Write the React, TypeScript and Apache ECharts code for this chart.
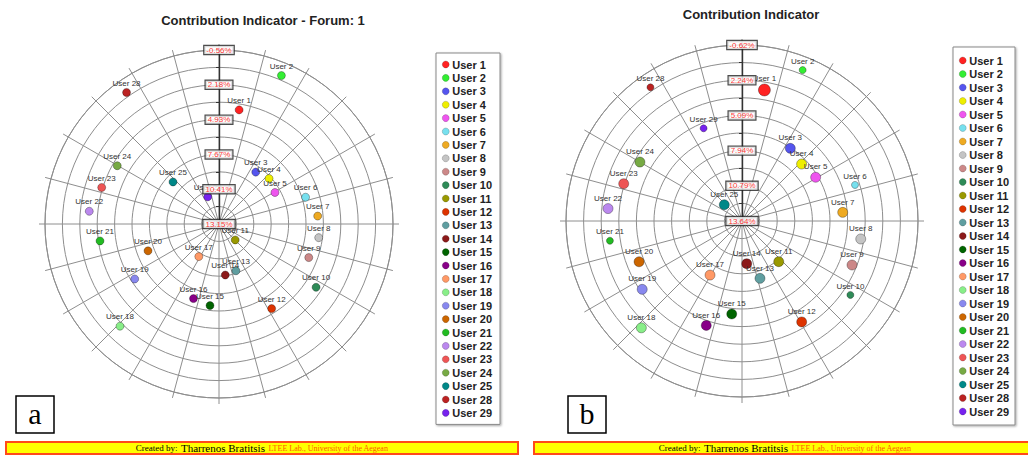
import React, { useEffect, useRef } from 'react';
import * as echarts from 'echarts';

const users = ['User 1', 'User 2', 'User 3', 'User 4', 'User 5', 'User 6', 'User 7', 'User 8', 'User 9', 'User 10', 'User 11', 'User 12', 'User 13', 'User 14', 'User 15', 'User 16', 'User 17', 'User 18', 'User 19', 'User 20', 'User 21', 'User 22', 'User 23', 'User 24', 'User 25', 'User 28', 'User 29'];
const userColors = ['#ff2222', '#33ee33', '#5555ee', '#eeee00', '#ee55ee', '#77e0ee', '#eeaa22', '#c4c4c4', '#cc8888', '#2e8b57', '#999900', '#dd3300', '#5f9ea0', '#8b1a1a', '#006400', '#880088', '#ff9966', '#88ee88', '#8888ee', '#cc6600', '#22bb22', '#bb88ee', '#ee5555', '#77aa44', '#008888', '#bb2222', '#7722ee'];

// Chart a (Forum 1): angular position (deg, clockwise from top) and contribution (%)
const anglesA = [10, 22.8, 35.3, 47.7, 60.6, 72.8, 85.4, 97.8, 110.5, 123.1, 134.5, 148.1, 160.1, 173, 186.3, 198.9, 211.8, 224.1, 236.9, 249.3, 261.9, 275.6, 287.3, 299.8, 312.4, 324.9, 337.5];
const valuesA = [4.02, 0.46, 8.14, 7.82, 8.09, 6.01, 5.35, 5.22, 5.6, 4.02, 11.36, 5.3, 9.23, 9.1, 6.69, 6.94, 10.13, 1.94, 5.22, 7.17, 3.68, 2.88, 3.47, 3.91, 8.24, 0.48, 10.83];
const ticksA = ['-0.56%', '2.18%', '4.93%', '7.67%', '10.41%', '13.15%'];
const tickValuesA = [-0.56, 2.18, 4.93, 7.67, 10.41, 13.15];

// Chart b
const anglesB = [9.7, 21.9, 33.6, 46.3, 59.3, 72.3, 85.1, 98.6, 111.8, 124.3, 137.9, 149.4, 162.6, 173.7, 186.3, 198.9, 210.6, 223.3, 235.6, 248.4, 261.5, 275.3, 287.5, 300, 312.6, 325.6, 337.5];
const valuesB = [2.87, 0.46, 6.57, 6.96, 6.7, 4.03, 5.45, 3.91, 4.04, 3.01, 9.2, 4.14, 8.77, 10.16, 6.06, 4.7, 8.55, 1.75, 3.84, 4.67, 2.82, 2.74, 3.59, 4.09, 11.69, 0.51, 5.51];
const sizesB = [12, 7, 10, 10, 10, 7, 10, 10, 10, 7, 10, 10, 10, 10, 10, 10, 10, 10, 10, 10, 7, 10, 10, 10, 10, 7, 7];
const ticksB = ['-0.62%', '2.24%', '5.09%', '7.94%', '10.79%', '13.64%'];
const tickValuesB = [-0.62, 2.24, 5.09, 7.94, 10.79, 13.64];

const SANS = '"Liberation Sans", Arial, sans-serif';
const SERIF = '"Liberation Serif", "Times New Roman", serif';
const GRID = '#8e8e8e';

function radiusAxis(idx: number, min: number, max: number) {
  return {
    polarIndex: idx,
    type: 'value',
    min,
    max,
    interval: (max - min) / 10,
    inverse: true,
    axisLine: { show: true, lineStyle: { color: '#333', width: 1.4 } },
    axisTick: { show: true, length: 3, lineStyle: { color: '#333' } },
    axisLabel: { show: false },
    splitLine: { show: true, lineStyle: { color: GRID, width: 1 } },
  };
}

function angleAxis(idx: number) {
  return {
    polarIndex: idx,
    type: 'value',
    min: 0,
    max: 360,
    interval: 15,
    startAngle: 90,
    clockwise: true,
    axisLine: { show: true, lineStyle: { color: GRID, width: 1 } },
    axisTick: { show: true, length: 6, lineStyle: { color: GRID } },
    axisLabel: { show: false },
    splitLine: { show: true, lineStyle: { color: GRID, width: 1 } },
  };
}

function userSeries(idx: number, angles: number[], values: number[], sizes: number[] | null) {
  return users.map((u, i) => ({
    type: 'scatter',
    name: u,
    coordinateSystem: 'polar',
    polarIndex: idx,
    data: [[values[i], angles[i]]],
    symbolSize: sizes ? sizes[i] : 8,
    itemStyle: { color: userColors[i], borderColor: 'rgba(0,0,0,0.45)', borderWidth: 0.7, opacity: 1 },
    label: {
      show: true,
      position: 'top',
      distance: 1,
      formatter: '{a}',
      fontSize: 8,
      color: '#333',
      textBorderWidth: 0,
      fontFamily: SANS,
    },
    z: 3,
  }));
}

function tickSeries(idx: number, vals: number[], labels: string[]) {
  return {
    type: 'scatter',
    name: 'ticks' + idx,
    coordinateSystem: 'polar',
    polarIndex: idx,
    silent: true,
    symbolSize: 1,
    itemStyle: { color: 'rgba(0,0,0,0)' },
    data: vals.map((v, i) => ({ value: [v, 0], name: labels[i] })),
    label: {
      show: true,
      position: 'inside',
      formatter: '{b}',
      color: '#ff0000',
      fontSize: 8,
      fontFamily: SANS,
      backgroundColor: '#fff',
      borderColor: '#222',
      borderWidth: 1.2,
      padding: [0, 2, 0, 2],
    },
    z: 10,
  };
}

function legend(left: number, top: number, padding: number[], gap: number) {
  return {
    data: users,
    orient: 'vertical',
    left,
    top,
    icon: 'circle',
    itemWidth: 7,
    itemHeight: 13,
    itemGap: gap,
    selectedMode: false,
    itemStyle: { borderColor: 'rgba(0,0,0,0.35)', borderWidth: 0.5 },
    textStyle: { fontSize: 11, fontWeight: 'bold', color: '#222', fontFamily: SANS, lineHeight: 13, padding: [0, 0, 0, -2] },
    backgroundColor: '#fff',
    borderColor: '#888',
    borderWidth: 1,
    padding,
    shadowColor: 'rgba(0,0,0,0.35)',
    shadowBlur: 2,
    shadowOffsetX: 1,
    shadowOffsetY: 1,
  };
}

function footer(x: number, w: number, cx: number) {
  return [
    {
      type: 'rect',
      shape: { x, y: 442, width: w, height: 12 },
      style: { fill: '#ffff00', stroke: '#ff4a1a', lineWidth: 2 },
    },
    {
      type: 'text',
      x: cx,
      y: 448,
      style: {
        text: '{a|Created by:} {b|Tharrenos Bratitsis} {c|LTEE Lab., University of the Aegean}',
        align: 'center',
        verticalAlign: 'middle',
        rich: {
          a: { fontSize: 9, fontFamily: SERIF, fill: '#000', color: '#000' },
          b: { fontSize: 11, fontFamily: SERIF, fill: '#000', color: '#000' },
          c: { fontSize: 8, fontFamily: SERIF, fill: '#ff5a00', color: '#ff5a00' },
        },
      },
    },
  ];
}

function letterBox(x: number, letter: string) {
  return [
    {
      type: 'rect',
      shape: { x, y: 396, width: 38, height: 37 },
      style: { fill: '#fff', stroke: '#000', lineWidth: 1.5 },
    },
    {
      type: 'text',
      x: x + 19,
      y: 413,
      style: { text: letter, font: '30px ' + SERIF, fill: '#000', align: 'center', verticalAlign: 'middle' },
    },
  ];
}

export default function App() {
  const ref = useRef<HTMLDivElement>(null);
  useEffect(() => {
    if (!ref.current) return;
    const chart = echarts.init(ref.current, undefined, { renderer: 'svg' });
    chart.setOption({
      animation: false,
      backgroundColor: '#fff',
      polar: [
        { center: [219, 224], radius: 174 },
        { center: [742, 221], radius: 176 },
      ],
      radiusAxis: [radiusAxis(0, -0.56, 13.15), radiusAxis(1, -0.62, 13.64)],
      angleAxis: [angleAxis(0), angleAxis(1)],
      legend: [legend(436, 53, [5, 8, 5, 6], 0.4), legend(953, 47, [7, 6, 7, 6], 0.5)],
      series: [
        ...userSeries(0, anglesA, valuesA, null),
        tickSeries(0, tickValuesA, ticksA),
        ...userSeries(1, anglesB, valuesB, sizesB),
        tickSeries(1, tickValuesB, ticksB),
      ],
      graphic: [
        {
          type: 'text',
          x: 263,
          y: 20,
          style: { text: 'Contribution Indicator - Forum: 1', font: 'bold 13px ' + SANS, fill: '#222', align: 'center', verticalAlign: 'middle' },
        },
        {
          type: 'text',
          x: 751,
          y: 14,
          style: { text: 'Contribution Indicator', font: 'bold 13px ' + SANS, fill: '#222', align: 'center', verticalAlign: 'middle' },
        },
        ...letterBox(16, 'a'),
        ...letterBox(568, 'b'),
        ...footer(6, 512, 262),
        ...footer(534, 504, 785),
      ],
    });
    return () => chart.dispose();
  }, []);
  return (
    <div
      ref={ref}
      style={{ position: 'fixed', left: 0, top: 0, width: 1028, height: 457, background: '#fff' }}
    />
  );
}
